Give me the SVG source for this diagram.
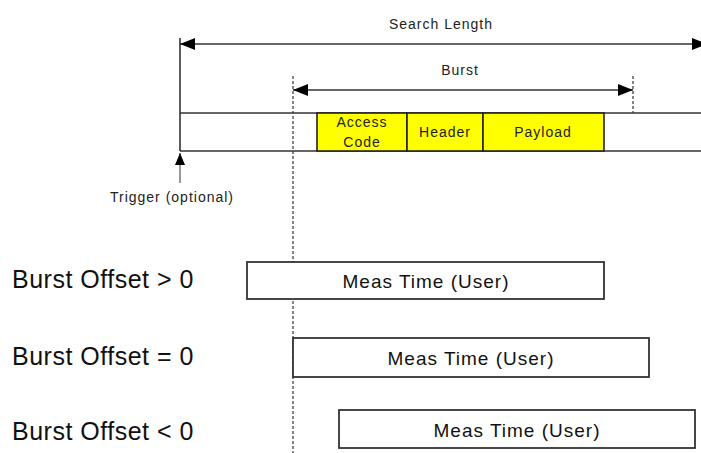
<svg xmlns="http://www.w3.org/2000/svg" width="701" height="453" viewBox="0 0 701 453">
  <style>
    .ln{stroke:#333;stroke-width:1.6;fill:none}
    .dash{stroke:#444;stroke-width:1.3;stroke-dasharray:3 2;fill:none}
    .box{fill:#fff;stroke:#333;stroke-width:1.8}
    .seg{fill:#ffff00;stroke:#222;stroke-width:1.6}
    .sm{font-family:"Liberation Sans",Arial,sans-serif;font-size:14px;letter-spacing:1px;fill:#222}
    .md{font-family:"Liberation Sans",Arial,sans-serif;font-size:19px;letter-spacing:1px;fill:#111}
    .lg{font-family:"Liberation Sans",Arial,sans-serif;font-size:25px;letter-spacing:0.5px;fill:#111}
  </style>
  <defs>
    <marker id="ah" viewBox="0 0 15 12" refX="15" refY="6" markerWidth="15" markerHeight="12" markerUnits="userSpaceOnUse" orient="auto-start-reverse">
      <path d="M0,0 L15,6 L0,12 Z" fill="#000"/>
    </marker>
    <marker id="ahs" viewBox="0 0 12 12" refX="12" refY="6" markerWidth="12" markerHeight="12" markerUnits="userSpaceOnUse" orient="auto">
      <path d="M0,1 L12,6 L0,11 Z" fill="#000"/>
    </marker>
  </defs>

  <g id="band">
    <line class="ln" x1="180" y1="113" x2="701" y2="113"/>
    <line class="ln" x1="180" y1="151" x2="701" y2="151"/>
    <line class="ln" x1="180" y1="38" x2="180" y2="151"/>
  </g>

  <g id="access-code">
    <rect class="seg" x="317" y="113" width="90" height="38"/>
    <text class="sm" x="362" y="127" text-anchor="middle">Access</text>
    <text class="sm" x="362" y="147" text-anchor="middle">Code</text>
  </g>
  <g id="header">
    <rect class="seg" x="407" y="113" width="76" height="38"/>
    <text class="sm" x="445" y="137" text-anchor="middle">Header</text>
  </g>
  <g id="payload">
    <rect class="seg" x="483" y="113" width="121" height="38"/>
    <text class="sm" x="543" y="137" text-anchor="middle">Payload</text>
  </g>

  <g id="connectors">
    <line class="ln" x1="180" y1="44" x2="707" y2="44" marker-start="url(#ah)" marker-end="url(#ah)"/>
    <line class="ln" x1="293" y1="90" x2="633" y2="90" marker-start="url(#ah)" marker-end="url(#ah)"/>
    <line class="dash" x1="293" y1="76" x2="293" y2="453"/>
    <line class="dash" x1="633" y1="76" x2="633" y2="113"/>
    <line stroke="#555" stroke-width="1.2" x1="180" y1="183" x2="180" y2="153" marker-end="url(#ahs)"/>
  </g>

  <g id="search-length-label">
    <text class="sm" x="441" y="29" text-anchor="middle">Search Length</text>
  </g>
  <g id="burst-label">
    <text class="sm" x="460" y="75" text-anchor="middle">Burst</text>
  </g>
  <g id="trigger-label">
    <text class="sm" x="172" y="202" text-anchor="middle" letter-spacing="0.9">Trigger (optional)</text>
  </g>

  <g id="offset-pos">
    <text class="lg" x="12" y="288">Burst Offset &gt; 0</text>
    <rect class="box" x="247" y="262" width="357" height="37"/>
    <text class="md" x="426" y="288" text-anchor="middle">Meas Time (User)</text>
  </g>
  <g id="offset-zero">
    <text class="lg" x="12" y="365">Burst Offset = 0</text>
    <rect class="box" x="293" y="338" width="356" height="39"/>
    <text class="md" x="471" y="365" text-anchor="middle">Meas Time (User)</text>
  </g>
  <g id="offset-neg">
    <text class="lg" x="12" y="440">Burst Offset &lt; 0</text>
    <rect class="box" x="339" y="410" width="356" height="38"/>
    <text class="md" x="517" y="437" text-anchor="middle">Meas Time (User)</text>
  </g>
</svg>
